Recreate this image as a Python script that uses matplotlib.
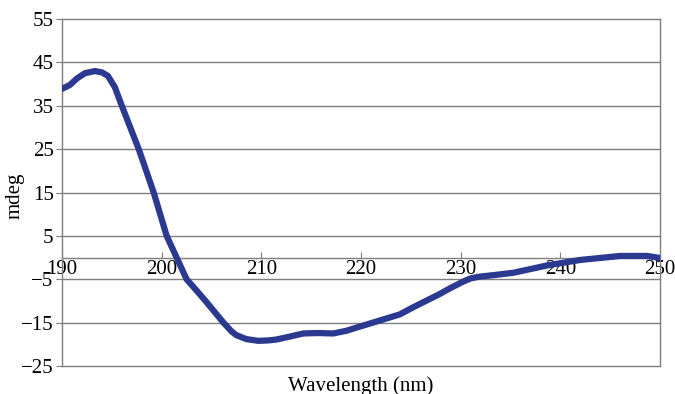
import numpy as np
import matplotlib
matplotlib.use('Agg')
import matplotlib.pyplot as plt

# CD spectrum
wavelength = [190.0, 190.8, 191.5, 192.3, 193.3, 194.0, 194.6, 195.3, 196.0,
              197.7, 199.2, 200.5, 201.5, 202.5, 203.5, 204.4, 205.3, 206.2,
              207.0, 207.5, 208.5, 209.7, 210.7, 211.5, 212.9, 214.2, 215.7,
              217.2, 218.5, 219.9, 221.9, 223.9, 225.2, 227.9, 229.0, 230.2,
              231.0, 231.9, 233.5, 235.3, 238.7, 242.0, 246.0, 248.7, 250.0]
mdeg = [38.9, 39.8, 41.3, 42.5, 43.0, 42.7, 41.9, 39.3, 35.0,
        25.0, 15.0, 5.0, 0.0, -5.0, -7.6, -10.0, -12.5, -15.0,
        -17.0, -17.9, -18.8, -19.2, -19.1, -18.9, -18.2, -17.5, -17.4,
        -17.5, -16.9, -15.9, -14.5, -13.1, -11.5, -8.4, -7.0, -5.6,
        -4.8, -4.4, -4.0, -3.5, -1.8, -0.55, 0.37, 0.37, -0.1]

yticks = [55, 45, 35, 25, 15, 5, -5, -15, -25]
xticks = [190, 200, 210, 220, 230, 240, 250]

plt.rcParams['font.family'] = ['Liberation Serif', 'DejaVu Serif']
plt.rcParams['axes.unicode_minus'] = True

fig = plt.figure(figsize=(6.75, 3.94), dpi=100)
ax = fig.add_axes([62 / 675, 1 - 366 / 394, (660 - 62) / 675, (366 - 19) / 394])

ax.plot(wavelength, mdeg, color='#2b3990', lw=4.5,
        solid_joinstyle='round', solid_capstyle='round', zorder=3)

ax.set_xlim(190, 250)
ax.set_ylim(-25, 55)
ax.set_yticks(yticks)
ax.set_xticks(xticks)

for y in yticks:
    ax.axhline(y, color='#7f7f7f', lw=1.0, zorder=1, clip_on=False)

ax.spines['top'].set_visible(False)
ax.spines['bottom'].set_position(('data', 0))
for s in ['bottom', 'left', 'right']:
    ax.spines[s].set_color('#7f7f7f')
    ax.spines[s].set_linewidth(1.0)

ax.tick_params(axis='y', direction='out', length=4, color='#7f7f7f',
               labelsize=15, pad=2)
ax.tick_params(axis='x', direction='in', length=4, color='#7f7f7f',
               labelsize=15, pad=2)

fig.text(15 / 675, 1 - 196 / 394, 'mdeg', rotation=90, ha='center',
         va='center', fontsize=15)
fig.text(361 / 675, 1 - 376 / 394, 'Wavelength (nm)', ha='center',
         va='top', fontsize=15)

fig.savefig('out.png', dpi=100)
